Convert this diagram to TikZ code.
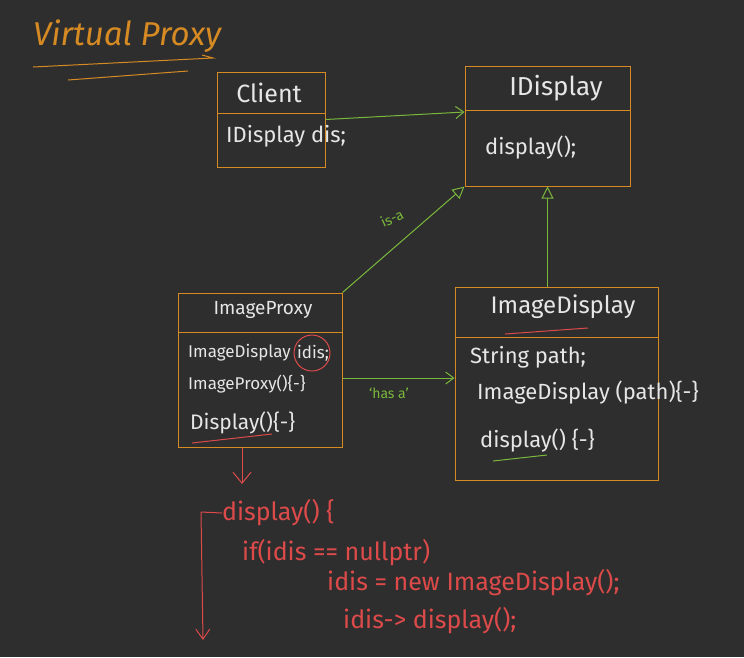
\documentclass[tikz,border=0pt]{standalone}
\usepackage{fontspec}
\setmainfont{Fira Sans}
\usetikzlibrary{arrows.meta}
\definecolor{bg}{HTML}{2E2E2E}
\definecolor{orng}{HTML}{D68A24}
\definecolor{grn}{HTML}{7AB83C}
\definecolor{rd}{HTML}{DD4A4A}
\definecolor{wht}{HTML}{E6E6E6}
\newcommand{\fsz}[1]{\fontsize{#1}{#1}\selectfont}
\tikzset{
  box/.style={draw=orng, line width=1pt, rectangle, inner sep=0pt},
  divider/.style={draw=orng, line width=1pt},
  txt/.style={text=wht, font=\fsz{17}, inner sep=0pt},
  codetxt/.style={text=rd, font=\fsz{25}, inner sep=0pt, anchor=west},
  glink/.style={draw=grn, line width=1pt},
  openarr/.style={-{Straight Barb[length=8pt,width=12pt,line width=1pt]}},
  triarr/.style={-{Triangle[open,length=12pt,width=12pt,line width=1pt]}},
  glabel/.style={text=grn, font=\fsz{14}, inner sep=1pt},
  redline/.style={draw=rd, line width=1pt},
}
\begin{document}
\begin{tikzpicture}[x=1pt,y=-1pt]
\fill[bg] (0,0) rectangle (744,657);
\useasboundingbox (0,0) rectangle (744,657);

% title
\node[text=orng, font=\fsz{33}\itshape, anchor=west, inner sep=0pt] (title) at (33,36) {Virtual Proxy};
\draw[orng, line width=1pt] (33,67) -- (213,58) -- (202,55);
\draw[orng, line width=1pt] (68,80) -- (188,71);

% Client
\node[box, minimum width=108pt, minimum height=95pt] (client) at (271,119.5) {};
\draw[divider] (client.west |- 0,113) -- (client.east |- 0,113);
\node[txt, font=\fsz{25}] (clientname) at (269,93) {Client};
\node[txt, font=\fsz{22}, anchor=west] (clientattr) at (226,136) {IDisplay dis;};

% IDisplay
\node[box, minimum width=165pt, minimum height=120pt] (idisplay) at (547.5,126) {};
\draw[divider] (idisplay.west |- 0,110) -- (idisplay.east |- 0,110);
\node[txt, font=\fsz{26}] (idname) at (556,88) {IDisplay};
\node[txt, font=\fsz{22}, anchor=west] (idop) at (485,148) {display();};

% ImageProxy
\node[box, minimum width=164pt, minimum height=154pt] (proxy) at (260,370) {};
\draw[divider] (proxy.west |- 0,332) -- (proxy.east |- 0,332);
\node[txt, font=\fsz{19}] (pname) at (263,310) {ImageProxy};
\node[txt, anchor=west] (pattr) at (188,353) {ImageDisplay};
\node[txt, anchor=west] (pidis) at ([xshift=6pt]pattr.east) {idis;};
\node[draw=rd, line width=1pt, circle, minimum size=36pt, inner sep=0pt] (idiscircle) at ([xshift=-1pt]pidis.center) {};
\node[txt, anchor=west] (pctor) at (188,384) {ImageProxy()\{-\}};
\node[txt, font=\fsz{21}, anchor=west] (pop) at (190,423) {Display()\{-\}};
\draw[redline] (192,443) -- (272,434);

% ImageDisplay
\node[box, minimum width=203pt, minimum height=193pt] (imgdisp) at (556.5,383.5) {};
\draw[divider] (imgdisp.west |- 0,337) -- (imgdisp.east |- 0,337);
\node[txt, font=\fsz{24}] (iname) at (563,307) {ImageDisplay};
\draw[redline] (505,334) -- (588,328);
\node[txt, font=\fsz{22}, anchor=west] (iattr) at (470,357) {String path;};
\node[txt, font=\fsz{22}, anchor=west] (ictor) at (477,393) {ImageDisplay (path)\{-\}};
\node[txt, font=\fsz{22}, anchor=west] (iop) at (480,441) {display() \{-\}};
\draw[glink] (493,461) -- (547,455);

% green connectors
\draw[glink, openarr] (client.east) -- ([yshift=14pt]idisplay.west);
\draw[glink, triarr] (proxy.north east) -- (idisplay.south west);
\node[glabel, rotate=25] (isa) at (392,218) {is-a};
\draw[glink, triarr] (imgdisp.north -| idisplay.south) -- (idisplay.south);
\draw[glink, openarr] ([yshift=-8pt]proxy.east) -- ([yshift=-8pt]imgdisp.west |- proxy.east);
\node[glabel] (hasa) at (389,393) {`has a'};

% red arrow down
\coordinate (downend) at (242,484);
\draw[redline, -{Straight Barb[length=11pt,width=18pt,line width=1pt]}] ([xshift=-18pt]proxy.south) -- (downend);

% code
\node[codetxt] (c1) at (222,513) {display() \{};
\node[codetxt] (c2) at (242,553) {if(idis == nullptr)};
\node[codetxt] (c3) at (327,583) {idis = new ImageDisplay();};
\node[codetxt] (c4) at (343,621) {idis-> display();};
\coordinate (bracktop) at (201,512);
\coordinate (brackbot) at (203,640);
\draw[redline] (c1.west) -- (bracktop);
\draw[redline, -{Straight Barb[length=10pt,width=14pt,line width=1pt]}] (bracktop) -- (brackbot);
\end{tikzpicture}
\end{document}
